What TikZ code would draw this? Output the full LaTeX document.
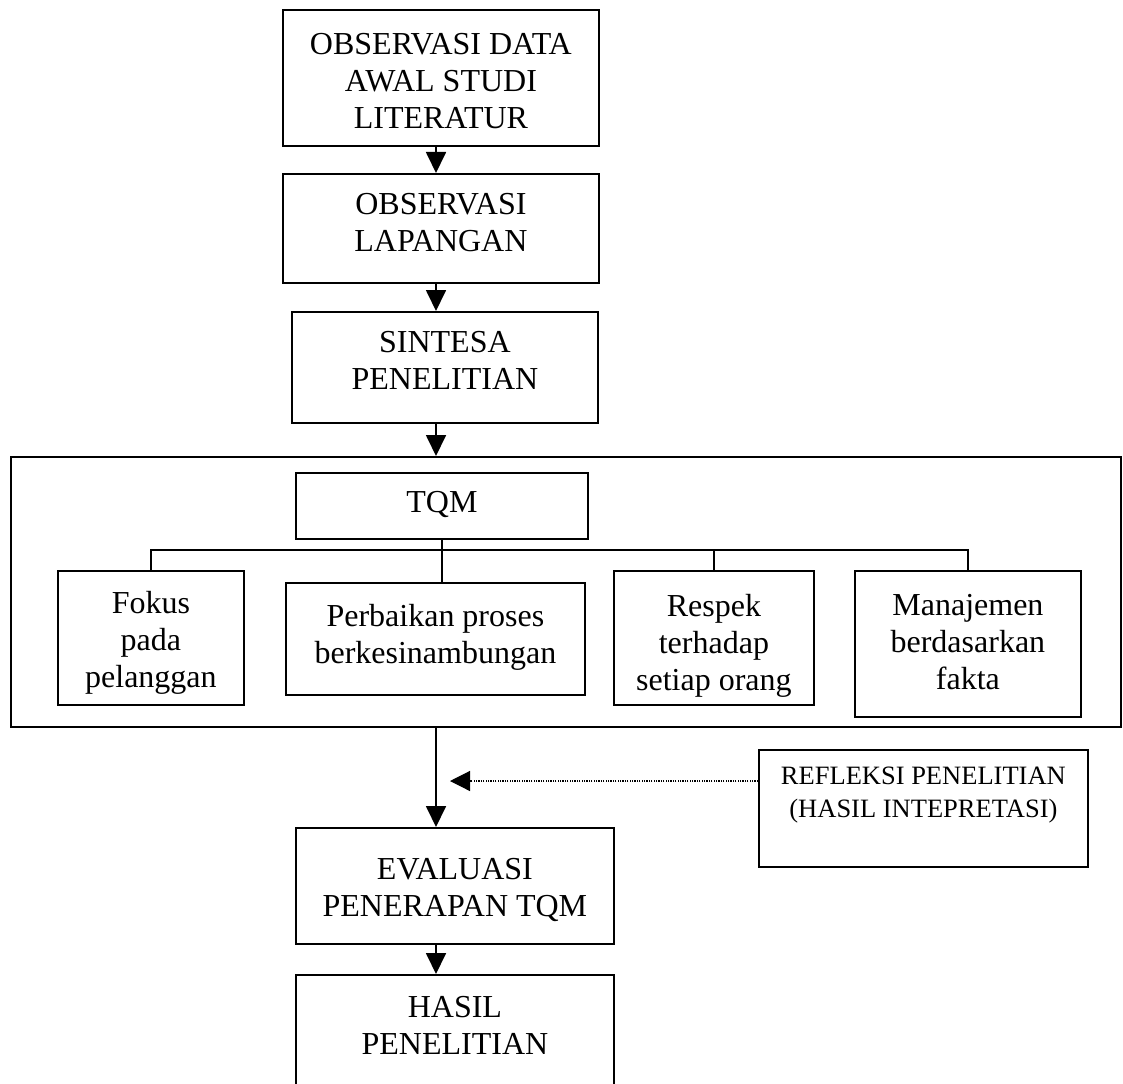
\documentclass[tikz,border=0pt]{standalone}
\usepackage{fontspec}
\setmainfont{Liberation Serif}
\usetikzlibrary{arrows.meta}
\newcommand{\isikotak}[4][20pt]{\parbox[c][#3][t]{#2}{\centering\vspace*{#1}#4}}
\tikzset{
  kotak/.style={draw,line width=1.8pt,inner sep=0pt,anchor=north west,font=\fontsize{32}{37}\selectfont},
  panah/.style={line width=1.8pt,-{Triangle[width=20pt,length=21pt]}},
  garis/.style={line width=1.8pt},
  titik/.style={line width=1.2pt,dash pattern=on 1.2pt off 1.2pt,-{Triangle[width=20pt,length=20pt]}}
}
\begin{document}
\begin{tikzpicture}[x=1pt,y=-1pt]
\useasboundingbox (0,0) rectangle (1123,1083);
\clip (0,0) rectangle (1123,1083);
\coordinate (poros) at (436,0);
\coordinate (bus) at (0,550);
\coordinate (ujung) at (450,781);
\node[kotak] (obs1) at (282,9) {\isikotak[23pt]{316pt}{136pt}{OBSERVASI DATA\\AWAL STUDI\\LITERATUR}};
\node[kotak] (obs2) at (282,173) {\isikotak[19pt]{316pt}{109pt}{OBSERVASI\\LAPANGAN}};
\node[kotak] (sintesa) at (291,311) {\isikotak[19pt]{306pt}{111pt}{SINTESA\\PENELITIAN}};
\node[kotak,minimum width=1110pt,minimum height=270pt] (bingkai) at (10,456) {};
\node[kotak] (tqm) at (295,472) {\isikotak[18pt]{292pt}{66pt}{TQM}};
\node[kotak] (fokus) at (57,570) {\isikotak{186pt}{134pt}{Fokus\\pada\\pelanggan}};
\node[kotak] (perb) at (285,582) {\isikotak[21pt]{299pt}{112pt}{Perbaikan proses\\berkesinambungan}};
\node[kotak] (respek) at (613,570) {\isikotak[23pt]{200pt}{134pt}{Respek\\terhadap\\setiap orang}};
\node[kotak] (manaj) at (854,570) {\isikotak[23pt]{226pt}{146pt}{Manajemen\\berdasarkan\\fakta}};
\node[kotak,font=\fontsize{26.5}{33}\selectfont] (refl) at (758,749) {\isikotak[17pt]{329pt}{117pt}{REFLEKSI PENELITIAN\\(HASIL INTEPRETASI)}};
\node[kotak] (eval) at (295,827) {\isikotak[30pt]{318pt}{116pt}{EVALUASI\\PENERAPAN TQM}};
\node[kotak] (hasil) at (295,974) {\isikotak[21pt]{318pt}{140pt}{HASIL\\PENELITIAN}};
\draw[panah] (obs1.south -| poros) -- (obs2.north -| poros);
\draw[panah] (obs2.south -| poros) -- (sintesa.north -| poros);
\draw[panah] (sintesa.south -| poros) -- (bingkai.north -| poros);
\draw[garis] (tqm.south) -- (tqm.south |- perb.north);
\draw[garis] (fokus.north) -- (fokus.north |- bus) -- (manaj.north |- bus) -- (manaj.north);
\draw[garis] (respek.north) -- (respek.north |- bus);
\draw[panah] (bingkai.south -| poros) -- (eval.north -| poros);
\draw[titik] (refl.west |- ujung) -- (ujung);
\draw[panah] (eval.south -| poros) -- (hasil.north -| poros);
\end{tikzpicture}
\end{document}
